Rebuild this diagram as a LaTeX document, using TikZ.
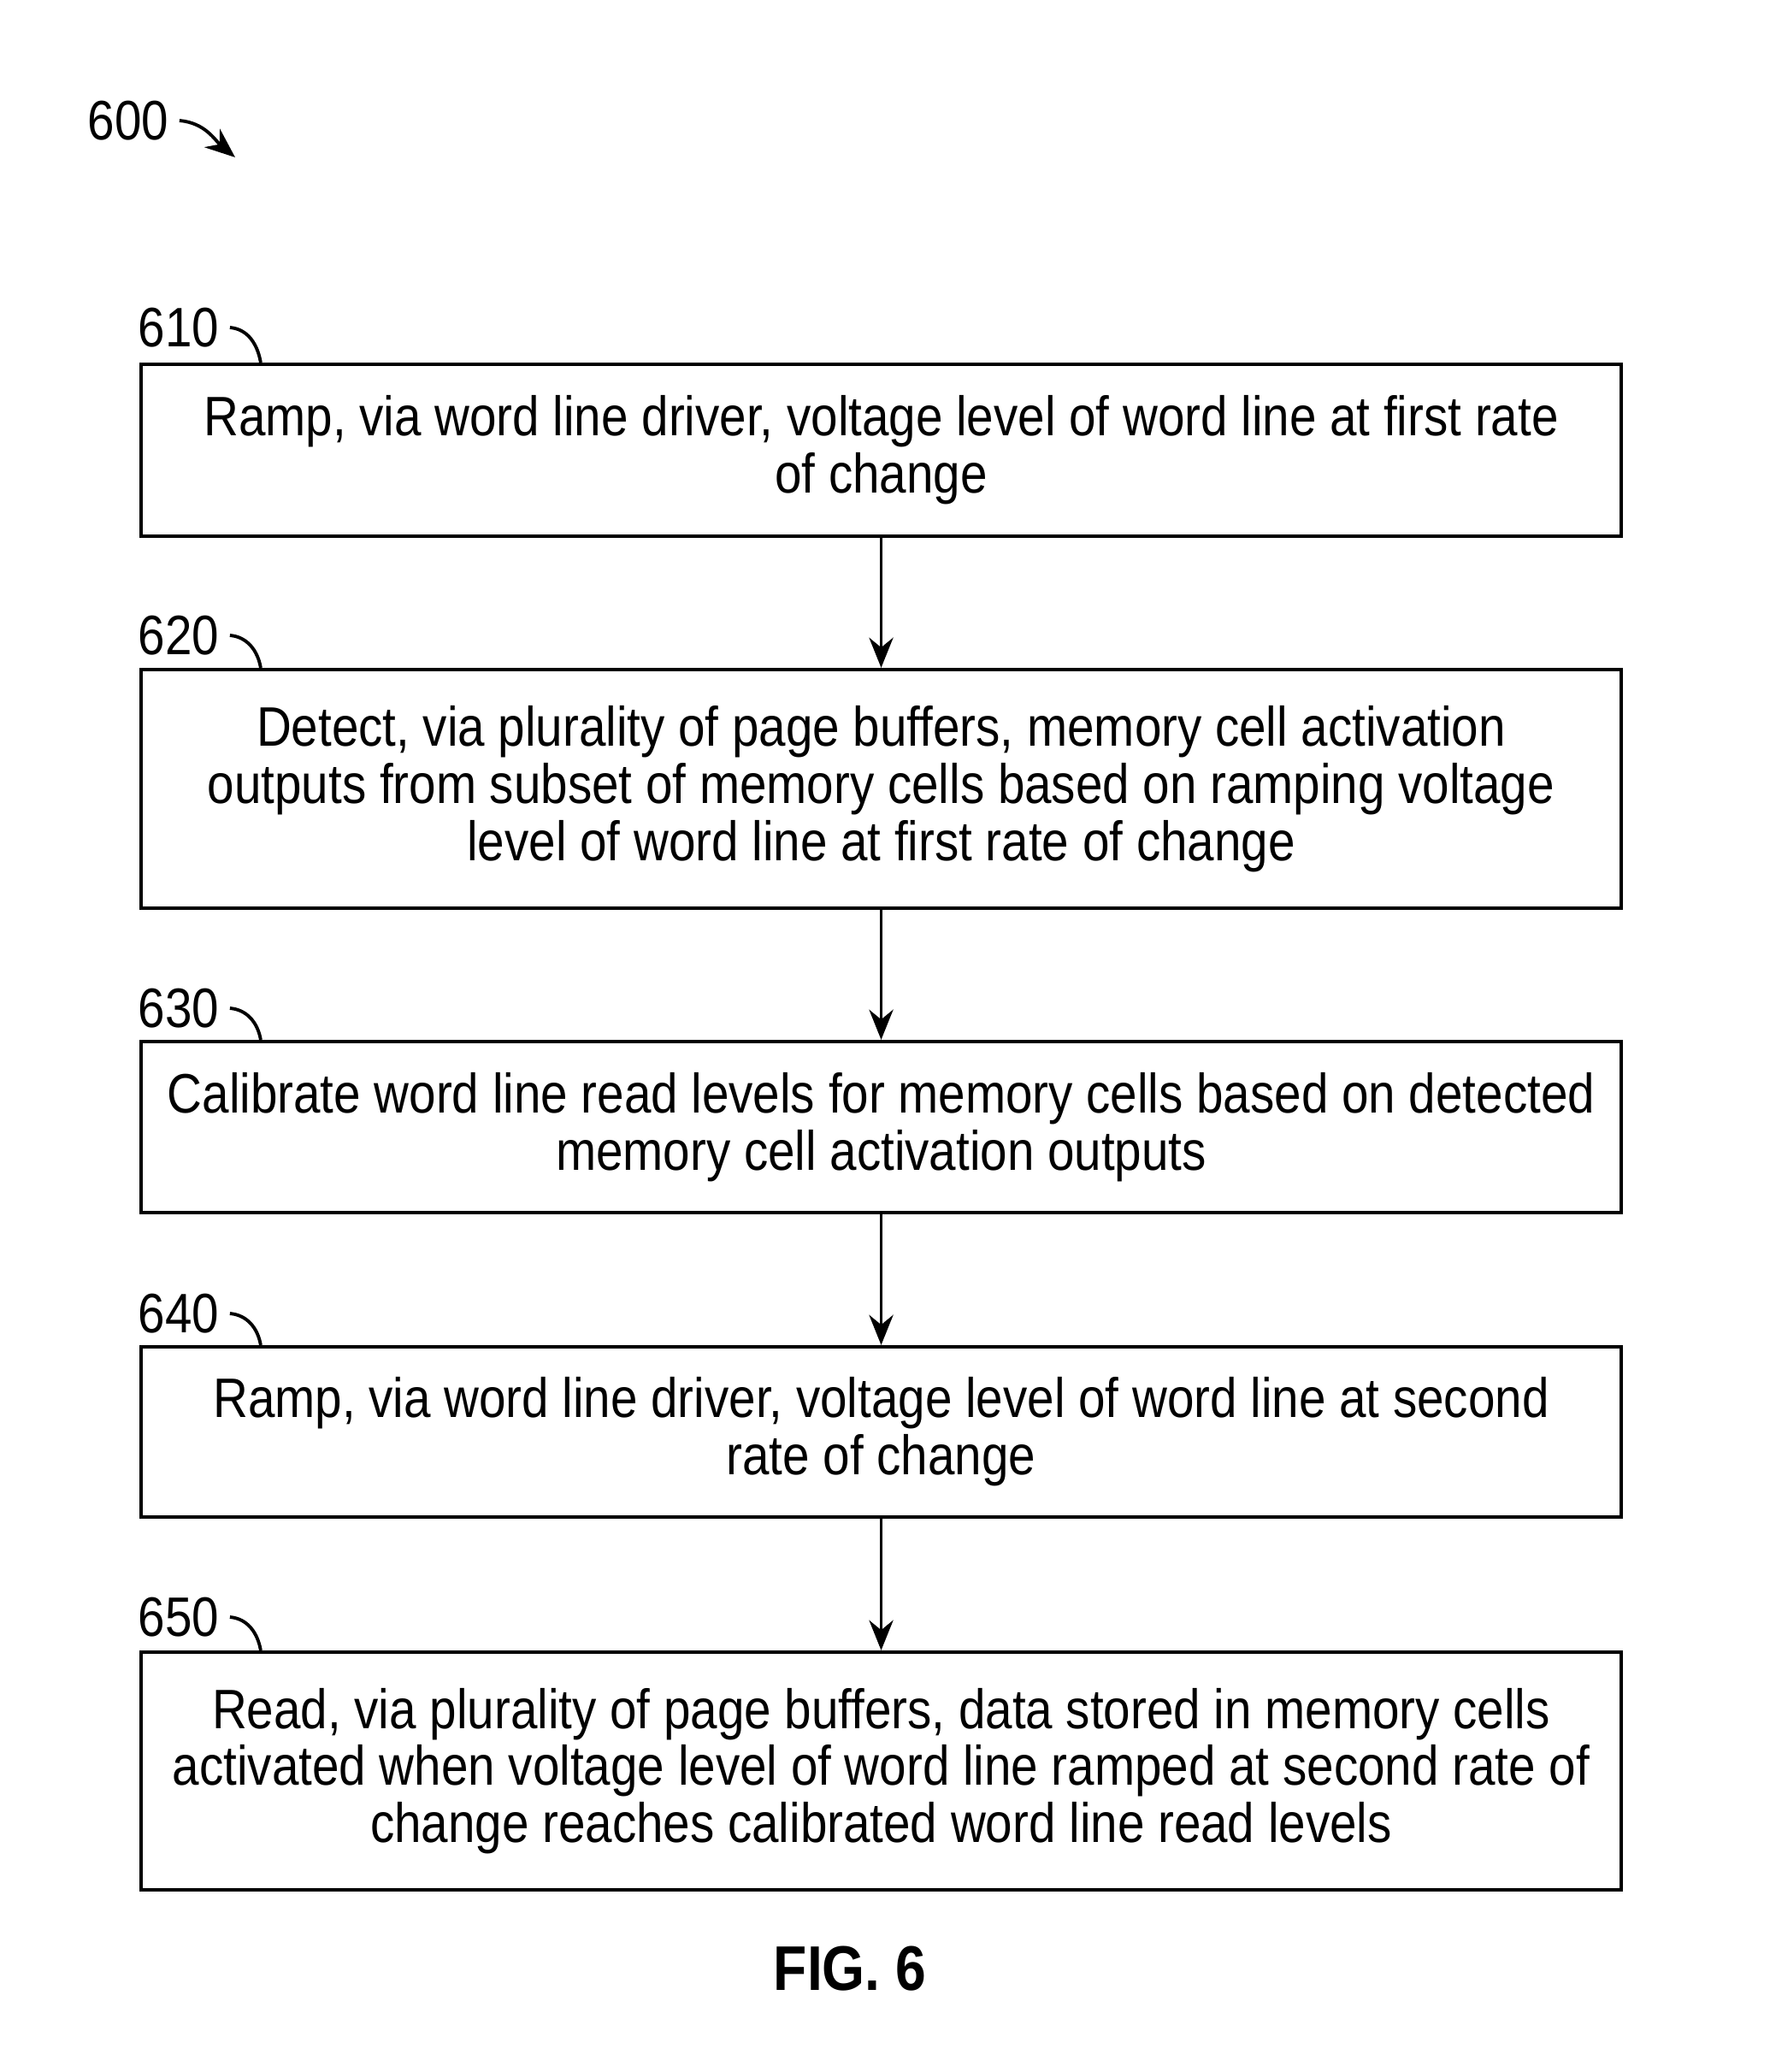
\documentclass[tikz,border=0pt]{standalone}
\usepackage{fontspec}
\setmainfont[FakeStretch=0.87]{Liberation Sans}
\usetikzlibrary{arrows.meta}

\begin{document}
\begin{tikzpicture}[>={Stealth[length=10pt,width=8pt]},
  stepbox/.style={draw,line width=1.2pt,minimum width=17.31cm,inner sep=0pt,align=center,
    font=\fontsize{18.5}{19}\selectfont},
  reflabel/.style={inner sep=0pt,font=\fontsize{18.5}{19}\selectfont}]
\useasboundingbox (0,0) rectangle (20.69,-24.23);

\node[reflabel] (L600) at (1.50,-1.41) {600};
\draw[->,line width=1.1pt] (L600.east) ++(0.12,0) coordinate (c600) to[out=-5,in=140] (2.75,-1.84);

\node[stepbox,minimum height=2.01cm] (S610) at (10.305,-5.265)
  {Ramp, via word line driver, voltage level of word line at first rate\\of change};
\node[stepbox,minimum height=2.79cm] (S620) at (10.305,-9.225)
  {Detect, via plurality of page buffers, memory cell activation\\outputs from subset of memory cells based on ramping voltage\\level of word line at first rate of change};
\node[stepbox,minimum height=2.00cm] (S630) at (10.305,-13.18)
  {Calibrate word line read levels for memory cells based on detected\\memory cell activation outputs};
\node[stepbox,minimum height=1.99cm] (S640) at (10.305,-16.745)
  {Ramp, via word line driver, voltage level of word line at second\\rate of change};
\node[stepbox,minimum height=2.78cm] (S650) at (10.305,-20.71)
  {Read, via plurality of page buffers, data stored in memory cells\\activated when voltage level of word line ramped at second rate of\\change reaches calibrated word line read levels};

\node[reflabel] (L610) at (2.09,-3.83) {610};
\node[reflabel] (L620) at (2.09,-7.43) {620};
\node[reflabel] (L630) at (2.09,-11.79) {630};
\node[reflabel] (L640) at (2.09,-15.36) {640};
\node[reflabel] (L650) at (2.09,-18.91) {650};

\draw[line width=1.1pt] (L610.east) ++(0.12,0) to[out=-5,in=100] ([xshift=1.42cm]S610.north west);
\draw[line width=1.1pt] (L620.east) ++(0.12,0) to[out=-5,in=100] ([xshift=1.42cm]S620.north west);
\draw[line width=1.1pt] (L630.east) ++(0.12,0) to[out=-5,in=100] ([xshift=1.42cm]S630.north west);
\draw[line width=1.1pt] (L640.east) ++(0.12,0) to[out=-5,in=100] ([xshift=1.42cm]S640.north west);
\draw[line width=1.1pt] (L650.east) ++(0.12,0) to[out=-5,in=100] ([xshift=1.42cm]S650.north west);

\draw[->,line width=1.1pt] (S610) -- (S620);
\draw[->,line width=1.1pt] (S620) -- (S630);
\draw[->,line width=1.1pt] (S630) -- (S640);
\draw[->,line width=1.1pt] (S640) -- (S650);

\node[font=\bfseries\fontsize{21}{22}\selectfont] (fig) at (9.94,-23.02) {FIG. 6};
\end{tikzpicture}
\end{document}
